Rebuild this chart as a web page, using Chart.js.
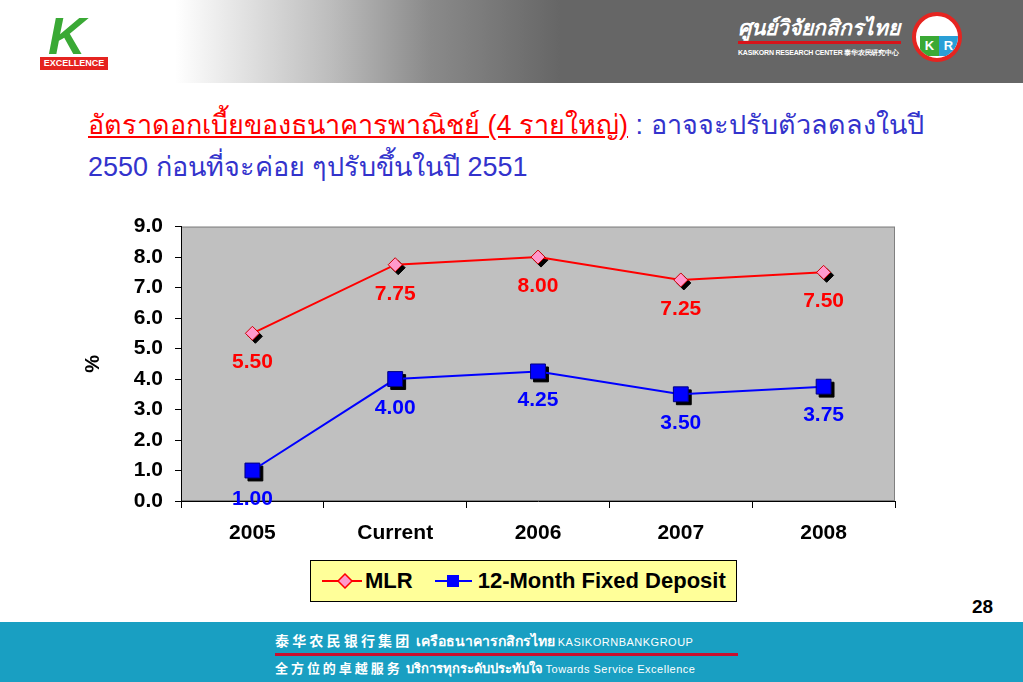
<!DOCTYPE html>
<html>
<head>
<meta charset="utf-8">
<script src="https://cdn.jsdelivr.net/npm/chart.js@4/dist/chart.umd.min.js"></script>
<style>
  body { margin: 0; width: 1023px; height: 682px; position: relative; overflow: hidden; background: #fff; font-family: "Liberation Sans", Arial, sans-serif; }
  .header { position: absolute; left: 0; top: 0; width: 1023px; height: 83px;
    background: linear-gradient(to right, #fff 0px, #fff 175px, #bdbdbd 330px, #8a8a8a 430px, #666 560px, #666 1023px); }
  .klogo { position: absolute; left: 40px; top: 12px; width: 68px; height: 60px; }
  .kletter { position: absolute; left: 8px; top: -6px; font: italic bold 52px "Liberation Sans", Arial, sans-serif; color: #3aa935; }
  .kbox { position: absolute; left: 0; top: 45px; width: 68px; height: 13px; background: #e52420; color: #fff; font: bold 9px "Liberation Sans", Arial, sans-serif; text-align: center; line-height: 13px; }
  .krc { position: absolute; left: 738px; top: 14px; color: #fff; }
  .krc .th { font: italic bold 21px "Noto Sans", sans-serif; line-height: 26px; }
  .krc .line { width: 163px; height: 3px; background: #d7141a; margin-top: 1px; }
  .krc .en { font: bold 7px "Liberation Sans", Arial, sans-serif; margin-top: 4px; letter-spacing: -0.2px; }
  .krlogo { position: absolute; left: 912px; top: 12px; width: 50px; height: 50px; border-radius: 50%; background: #fff; border: 4px solid #e52420; box-sizing: border-box; overflow: hidden; }
  .krlogo span { position: absolute; top: 20px; width: 19px; height: 20px; color: #fff; font: bold 13px "Liberation Sans", Arial, sans-serif; text-align: center; line-height: 20px; }
  .title { position: absolute; left: 88px; top: 104px; font-size: 27px; line-height: 42px; color: #3333cc; font-family: "Liberation Sans", "Noto Sans", sans-serif; }
  .title u { color: #ff0000; }
  .chart-wrap { position: absolute; left: 80px; top: 202px; width: 830px; height: 343px; }
  .legend { position: absolute; left: 310px; top: 560px; width: 427px; height: 42px; background: #ffff99; border: 1px solid #000; box-sizing: border-box;
    font: bold 22px "Liberation Sans", Arial, sans-serif; display: flex; align-items: center; padding-left: 11px; white-space: nowrap; }
  .legend .item { display: flex; align-items: center; }
  .pageno { position: absolute; left: 972px; top: 596px; font: bold 19px "Liberation Sans", Arial, sans-serif; }
  .footer { position: absolute; left: 0; top: 622px; width: 1023px; height: 60px; background: #199fc2; color: #fff; }
  .footer .l1 { position: absolute; left: 275px; top: 8px; font: bold 14px "Noto Sans CJK SC", "Noto Sans", sans-serif; white-space: nowrap; }
  .footer .redline { position: absolute; left: 275px; top: 31px; width: 463px; height: 3px; background: #c8102e; }
  .footer .l2 { position: absolute; left: 275px; top: 36px; font: bold 13px "Noto Sans CJK SC", "Noto Sans", sans-serif; white-space: nowrap; }
  .footer small { font: 11px "Liberation Sans", Arial, sans-serif; letter-spacing: 0.5px; }
</style>
</head>
<body>
<div class="header">
  <div class="klogo"><div class="kletter">K</div><div class="kbox">EXCELLENCE</div></div>
  <div class="krc">
    <div class="th">ศูนย์วิจัยกสิกรไทย</div>
    <div class="line"></div>
    <div class="en">KASIKORN RESEARCH CENTER 泰华农民研究中心</div>
  </div>
  <div class="krlogo">
    <span style="left:4px;background:#3aa935;">K</span>
    <span style="left:23px;background:#2a9fd6;">R</span>
  </div>
</div>

<div class="title">
  <u>อัตราดอกเบี้ยของธนาคารพาณิชย์ (4 รายใหญ่)</u> : อาจจะปรับตัวลดลงในปี<br>
  2550 ก่อนที่จะค่อย ๆปรับขึ้นในปี 2551
</div>

<div class="chart-wrap"><canvas id="rateChart"></canvas></div>

<div class="legend">
  <div class="item" style="margin-right:22px;">
    <svg width="40" height="16" style="margin-right:3px;"><line x1="0" y1="8" x2="40" y2="8" stroke="#ff0000" stroke-width="2"/><polygon points="23,1 30,8 23,15 16,8" fill="#ff99cc" stroke="#ff0000" stroke-width="1.5"/></svg>
    <span>MLR</span>
  </div>
  <div class="item">
    <svg width="37" height="16" style="margin-right:6px;"><line x1="0" y1="8" x2="37" y2="8" stroke="#0000ff" stroke-width="2"/><rect x="12" y="2" width="12" height="12" fill="#0000ff"/></svg>
    <span>12-Month Fixed Deposit</span>
  </div>
</div>

<div class="pageno">28</div>

<div class="footer">
  <div class="l1">泰 华 农 民 银 行 集 团 &nbsp;เครือธนาคารกสิกรไทย <small>KASIKORNBANKGROUP</small></div>
  <div class="redline"></div>
  <div class="l2">全 方 位 的 卓 越 服 务 &nbsp;บริการทุกระดับประทับใจ <small>Towards Service Excellence</small></div>
</div>

<script>
const categories = ['2005', 'Current', '2006', '2007', '2008'];
const mlrValues = [5.50, 7.75, 8.00, 7.25, 7.50];
const depositValues = [1.00, 4.00, 4.25, 3.50, 3.75];
const yTicks = [0, 1, 2, 3, 4, 5, 6, 7, 8, 9];

// black drop shadow under each marker
const markerShadow = {
    id: 'markerShadow',
    beforeDatasetDraw(chart, args) {
        const ctx = chart.ctx;
        const ds = chart.data.datasets[args.index];
        ctx.save();
        ctx.fillStyle = '#000';
        ctx.strokeStyle = '#000';
        ctx.lineWidth = 1;
        args.meta.data.forEach(pt => {
            Chart.helpers.drawPoint(ctx, {
                pointStyle: ds.pointStyle,
                radius: ds.pointRadius,
                borderWidth: 1,
                rotation: 0
            }, pt.x + 3, pt.y + 3);
        });
        ctx.restore();
    }
};

// value labels under each point
const valueLabels = {
    id: 'valueLabels',
    afterDatasetsDraw(chart) {
        const ctx = chart.ctx;
        ctx.save();
        ctx.font = 'bold 21px "Liberation Sans", Arial, sans-serif';
        ctx.textAlign = 'center';
        ctx.textBaseline = 'middle';
        chart.data.datasets.forEach((ds, i) => {
            ctx.fillStyle = ds.labelColor;
            chart.getDatasetMeta(i).data.forEach((pt, j) => {
                ctx.fillText(ds.data[j].toFixed(2), pt.x, pt.y + 29);
            });
        });
        ctx.restore();
    }
};

// grey plot area with border
const plotArea = {
    id: 'plotArea',
    beforeDraw(chart) {
        const { ctx, chartArea: a } = chart;
        ctx.save();
        ctx.fillStyle = '#c0c0c0';
        ctx.fillRect(a.left, a.top, a.right - a.left, a.bottom - a.top);
        ctx.strokeStyle = '#808080';
        ctx.lineWidth = 1;
        ctx.strokeRect(a.left + 0.5, a.top + 0.5, a.right - a.left - 1, a.bottom - a.top - 1);
        ctx.restore();
    }
};

const ctx = document.getElementById('rateChart').getContext('2d');
new Chart(ctx, {
    type: 'line',
    data: {
        labels: categories,
        datasets: [{
            label: 'MLR',
            data: mlrValues,
            borderColor: '#ff0000',
            borderWidth: 2,
            pointStyle: 'rectRot',
            pointRadius: 7,
            pointBackgroundColor: '#ff99cc',
            pointBorderColor: '#cc0000',
            pointBorderWidth: 1,
            labelColor: '#ff0000',
            tension: 0
        }, {
            label: '12-Month Fixed Deposit',
            data: depositValues,
            borderColor: '#0000ff',
            borderWidth: 2,
            pointStyle: 'rect',
            pointRadius: 10.5,
            pointBackgroundColor: '#0000ff',
            pointBorderColor: '#000080',
            pointBorderWidth: 1,
            labelColor: '#0000ff',
            tension: 0
        }]
    },
    options: {
        responsive: true,
        maintainAspectRatio: false,
        animation: false,
        layout: { padding: { top: 0, right: 15, left: 0, bottom: 0 } },
        plugins: {
            legend: { display: false },
            tooltip: { enabled: false }
        },
        scales: {
            x: {
                offset: true,
                grid: { display: true, drawOnChartArea: false, offset: true, color: '#000', tickLength: 7, tickWidth: 1 },
                border: { display: true, color: '#000', width: 1 },
                ticks: { color: '#000', font: { family: '"Liberation Sans", Arial, sans-serif', size: 21, weight: 'bold' }, padding: 13, maxRotation: 0 },
                afterFit(scale) { scale.height = 44; }
            },
            y: {
                min: 0,
                max: 9,
                afterBuildTicks(scale) { scale.ticks = yTicks.map(v => ({ value: v })); },
                grid: { display: true, drawOnChartArea: false, color: '#000', tickLength: 6 },
                border: { display: true, color: '#000', width: 1 },
                ticks: {
                    color: '#000',
                    padding: 12,
                    font: { family: '"Liberation Sans", Arial, sans-serif', size: 21, weight: 'bold' },
                    callback: v => v.toFixed(1)
                },
                title: {
                    display: true,
                    text: '%',
                    color: '#000',
                    font: { family: '"Liberation Sans", Arial, sans-serif', size: 20, weight: 'bold' },
                    padding: { top: 1, bottom: 0 }
                },
                afterFit(scale) { scale.width = 101; }
            }
        }
    },
    plugins: [plotArea, markerShadow, valueLabels]
});
</script>
</body>
</html>
